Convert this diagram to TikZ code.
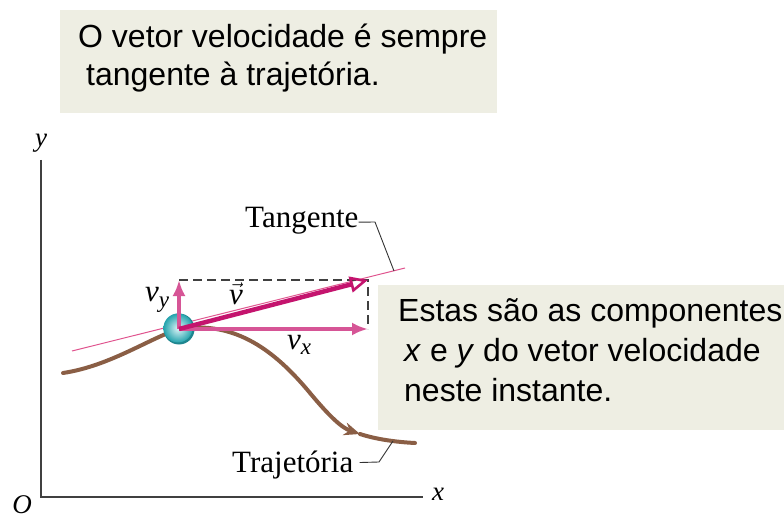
\documentclass[tikz,border=0pt]{standalone}
\usepackage{fontspec}
\setmainfont{Liberation Serif}
\newfontfamily\boxfont{Liberation Sans}
\usetikzlibrary{arrows.meta}
\definecolor{boxbg}{HTML}{EEEEE3}
\definecolor{vmag}{HTML}{C4146E}
\definecolor{vcomp}{HTML}{D65596}
\definecolor{tanpink}{HTML}{E0558F}
\definecolor{path}{HTML}{8A5E45}
\definecolor{ballc}{HTML}{2CC0CC}
\newcommand{\sub}[2]{\textit{#1}\raisebox{-0.4ex}{\fontsize{23}{23}\selectfont\textit{#2}}}
\begin{document}
\begin{tikzpicture}[x=1pt,y=-1pt,
  notetext/.style={font=\boxfont\fontsize{32}{39}\selectfont, align=left, anchor=north west, inner sep=0pt},
  serif/.style={font=\fontsize{31}{31}\selectfont, inner sep=0pt},
  axlab/.style={font=\fontsize{27}{27}\selectfont\itshape, inner sep=0pt},
  axis/.style={line width=1.3pt, draw=black!75},
  vec/.style={line width=4.5pt, draw=vmag},
  comp/.style={line width=3.8pt, draw=vcomp, -{Latex[length=16pt,width=13pt]}},
  leader/.style={line width=0.9pt, draw=black!80}]
\useasboundingbox (0,0) rectangle (784,521);
% top note
\fill[boxbg] (60,10) rectangle (497,113);
\node[notetext] (top) at (78,24) {O vetor velocidade é sempre\\[-1pt]\hspace{8pt}tangente à trajetória.};
% axes
\coordinate (O) at (41,497);
\coordinate (ytop) at (41,160);
\coordinate (xend) at (423,497);
\draw[axis] (ytop) -- (O) -- (xend);
\node[axlab] (ylab) at (41,143) {y};
\node[axlab] (xlab) at (438,494) {x};
\node[axlab] (olab) at (22,505) {O};
% tangent line
\coordinate (t1) at (72,351);
\coordinate (t2) at (405,268);
\draw[tanpink, line width=1pt] (t1) -- (t2);
% trajectory
\coordinate (c0) at (63,373);
\coordinate (ball) at (179,329);
\coordinate (carr) at (360,434);
\coordinate (cend) at (415,443);
\draw[path, line width=4pt, line cap=round] (c0) .. controls (110,366) and (150,338) .. (ball);
\draw[path, line width=4pt, -{Stealth[length=16pt,width=13pt]}] (ball) .. controls (236,320) and (276,352) .. (310,393) .. controls (330,417) and (342,428) .. (carr);
\draw[path, line width=4pt, line cap=round] (carr) .. controls (375,439) and (395,442) .. (cend);
% ball
\fill[ballc!70!black] (ball) circle (15.5);
\shade[inner color=ballc!15!white, outer color=ballc!85!black] ([shift={(-1,-1)}]ball) circle (14.5);
% dashed rectangle
\coordinate (ctop) at (179,280);
\coordinate (ctip) at (368,280);
\coordinate (cx) at (368,329);
\draw[black!75, line width=1.4pt, dash pattern=on 9pt off 5pt] (ctop) -- (ctip) -- (cx);
% components
\draw[comp] (ball) -- (cx);
\draw[comp] (ball) -- (ctop);
% velocity vector
\draw[vec, -{Triangle[open, length=18pt, width=16pt, line width=2.6pt]}] (ball) -- (ctip);
% labels
\node[serif] (vy) at (157,300) {\sub{v}{y}};
\node[serif] (vv) at (236,294) {$\vec{\mbox{\textit{v}}}$};
\node[serif] (vx) at (299,345) {\sub{v}{x}};
% Tangente
\node[serif, anchor=base west] (tang) at (245,228) {Tangente};
\coordinate (tl1) at (375,222);
\coordinate (tl2) at (394,271);
\draw[leader] (tang.east) ++(0,1) -- (tl1) -- (tl2);
% Trajetoria
\node[serif, anchor=base west] (traj) at (232,472) {Trajetória};
\coordinate (jl1) at (379,462);
\coordinate (jl2) at (393,441);
\draw[leader] (traj.east) ++(6,-2) -- (jl1) -- (jl2);
% right note
\fill[boxbg] (378,285) rectangle (784,430);
\node[notetext] (right) at (398,298) {Estas são as componentes\\[1pt]\hspace{6pt}\textit{x} e \textit{y} do vetor velocidade\\[1pt]\hspace{6pt}neste instante.};
\end{tikzpicture}
\end{document}
